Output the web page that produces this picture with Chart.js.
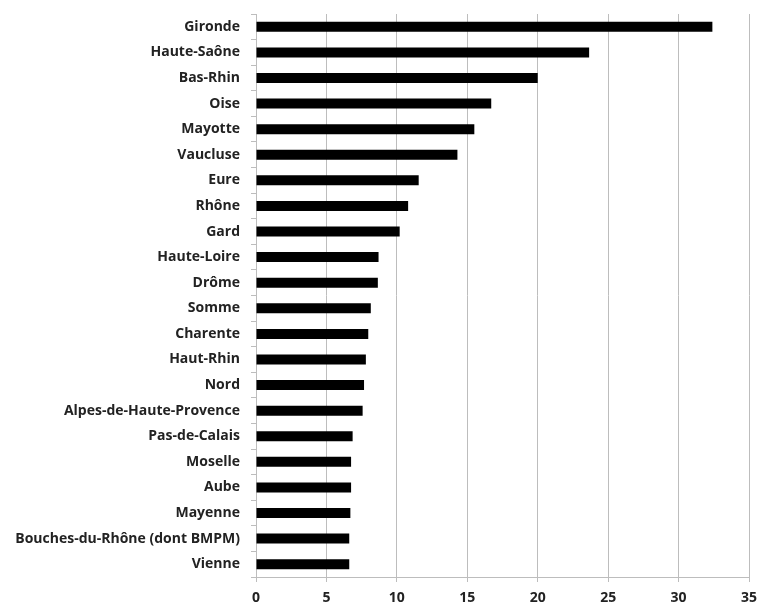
<!DOCTYPE html>
<html>
<head>
<meta charset="utf-8">
<script src="https://cdn.jsdelivr.net/npm/chart.js@4"></script>
<style>
  html, body { margin: 0; padding: 0; background: #fff; }
  #wrap { width: 759px; height: 605px; }
</style>
</head>
<body>
<div id="wrap"><canvas id="bar-chart"></canvas></div>
<script>
const departements = ["Gironde", "Haute-Saône", "Bas-Rhin", "Oise", "Mayotte", "Vaucluse", "Eure",
  "Rhône", "Gard", "Haute-Loire", "Drôme", "Somme", "Charente", "Haut-Rhin", "Nord",
  "Alpes-de-Haute-Provence", "Pas-de-Calais", "Moselle", "Aube", "Mayenne",
  "Bouches-du-Rhône (dont BMPM)", "Vienne"];
const valeurs = [32.4, 23.65, 20.0, 16.7, 15.5, 14.3, 11.55, 10.8, 10.2, 8.7, 8.65,
  8.15, 7.97, 7.8, 7.67, 7.57, 6.86, 6.75, 6.75, 6.7, 6.62, 6.62];
const xTicks = [0, 5, 10, 15, 20, 25, 30, 35];

const gridGrey = "#bdbdbd";
const labelFont = { family: "'Open Sans', sans-serif", size: 14, weight: "bold" };

let barchart = new Chart(document.getElementById("bar-chart"), {
  type: 'bar',
  data: {
    labels: departements,
    datasets: [{
      data: valeurs,
      backgroundColor: "#000000",
      barPercentage: 0.78,
      categoryPercentage: 0.5
    }]
  },
  options: {
    indexAxis: 'y',
    responsive: true,
    maintainAspectRatio: false,
    animation: false,
    layout: { padding: { top: 14, right: 10, left: 0, bottom: 0 } },
    plugins: { legend: { display: false }, tooltip: { enabled: false } },
    scales: {
      x: {
        min: 0,
        max: 35,
        afterBuildTicks: axis => { axis.ticks = xTicks.map(v => ({ value: v })); },
        grid: { color: gridGrey, lineWidth: 1, tickLength: 5 },
        border: { color: gridGrey },
        ticks: { color: "#222", font: labelFont, padding: 8, maxRotation: 0 },
        afterFit: scale => {
          scale.height = 28;
          scale.paddingLeft = 0;
          scale.paddingRight = 0;
        }
      },
      y: {
        grid: { drawOnChartArea: false, color: gridGrey, tickLength: 5, offset: true },
        border: { color: gridGrey },
        ticks: { color: "#222", font: labelFont, padding: 11, autoSkip: false },
        afterFit: scale => {
          scale.width = 256;
          scale.paddingTop = 0;
          scale.paddingBottom = 0;
        }
      }
    }
  }
});
</script>
</body>
</html>
